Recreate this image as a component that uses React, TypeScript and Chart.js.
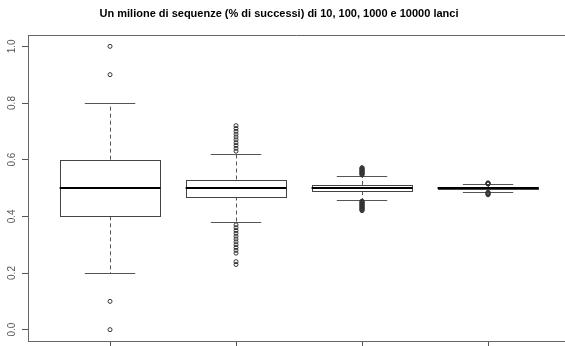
import React, { useEffect, useRef } from 'react';
import { Chart, registerables } from 'chart.js';

Chart.register(...registerables);

const titleText = 'Un milione di sequenze (% di successi) di 10, 100, 1000 e 10000 lanci';
const groups = [1, 2, 3, 4];
const yTickValues = [0, 0.2, 0.4, 0.6, 0.8, 1.0];
const q1 = [0.4, 0.47, 0.489, 0.4966];
const medians = [0.5, 0.5, 0.5, 0.5];
const q3 = [0.6, 0.53, 0.511, 0.5034];
const whiskerLow = [0.2, 0.38, 0.456, 0.4864];
const whiskerHigh = [0.8, 0.62, 0.544, 0.5136];
const outliers10 = [0.0, 0.1, 0.9, 1.0];
const outliers100 = [
  0.63, 0.64, 0.65, 0.66, 0.67, 0.68, 0.69, 0.7, 0.71, 0.72,
  0.37, 0.36, 0.35, 0.34, 0.33, 0.32, 0.31, 0.3, 0.29, 0.28, 0.27, 0.24, 0.23,
];
const outliers1000 = [
  0.546, 0.548, 0.55, 0.552, 0.554, 0.556, 0.558, 0.56, 0.562, 0.564, 0.566, 0.568, 0.57, 0.572,
  0.454, 0.452, 0.45, 0.448, 0.446, 0.444, 0.442, 0.44, 0.438, 0.436, 0.434, 0.432, 0.43, 0.428,
  0.426, 0.424, 0.422, 0.42,
];
const outliers10000 = [0.514, 0.515, 0.516, 0.517, 0.518, 0.485, 0.484, 0.482, 0.48, 0.478, 0.476];
const outlierLists = [outliers10, outliers100, outliers1000, outliers10000];

const boxPlugin = {
  id: 'boxPlugin',
  beforeDatasetsDraw(chart: any) {
    const { ctx, scales } = chart;
    const xs = scales.x;
    const ys = scales.y;
    ctx.save();
    groups.forEach((g, i) => {
      const xl = xs.getPixelForValue(g - 0.4);
      const xr = xs.getPixelForValue(g + 0.4);
      const xc = Math.round(xs.getPixelForValue(g)) + 0.5;
      const cl = xs.getPixelForValue(g - 0.2);
      const cr = xs.getPixelForValue(g + 0.2);
      const yq1 = ys.getPixelForValue(q1[i]);
      const yq3 = ys.getPixelForValue(q3[i]);
      const ymed = ys.getPixelForValue(medians[i]);
      const ylo = ys.getPixelForValue(whiskerLow[i]);
      const yhi = ys.getPixelForValue(whiskerHigh[i]);
      // whiskers
      ctx.strokeStyle = '#555';
      ctx.lineWidth = 1;
      ctx.setLineDash([4, 3]);
      ctx.beginPath();
      ctx.moveTo(xc, yq3);
      ctx.lineTo(xc, yhi);
      ctx.moveTo(xc, yq1);
      ctx.lineTo(xc, ylo);
      ctx.stroke();
      ctx.setLineDash([]);
      // caps
      ctx.beginPath();
      ctx.moveTo(cl, Math.round(yhi) + 0.5);
      ctx.lineTo(cr, Math.round(yhi) + 0.5);
      ctx.moveTo(cl, Math.round(ylo) + 0.5);
      ctx.lineTo(cr, Math.round(ylo) + 0.5);
      ctx.stroke();
      // box
      ctx.fillStyle = '#ffffff';
      ctx.strokeStyle = '#444';
      const top = Math.round(yq3) + 0.5;
      const bot = Math.round(yq1) + 0.5;
      ctx.fillRect(xl, top, xr - xl, bot - top);
      ctx.strokeRect(Math.round(xl) + 0.5, top, Math.round(xr) - Math.round(xl), bot - top);
      // median
      ctx.strokeStyle = '#000';
      ctx.lineWidth = 2;
      ctx.beginPath();
      ctx.moveTo(xl, Math.round(ymed));
      ctx.lineTo(xr, Math.round(ymed));
      ctx.stroke();
    });
    ctx.restore();
  },
  afterDraw(chart: any) {
    const { ctx, scales, chartArea } = chart;
    const ys = scales.y;
    ctx.save();
    // top frame line
    ctx.strokeStyle = '#666';
    ctx.lineWidth = 1;
    ctx.beginPath();
    ctx.moveTo(chartArea.left, chartArea.top + 0.5);
    ctx.lineTo(chartArea.right, chartArea.top + 0.5);
    ctx.stroke();
    // y tick labels, rotated
    ctx.fillStyle = '#555';
    ctx.font = '10px "Liberation Sans", Arial, sans-serif';
    ctx.textAlign = 'center';
    ctx.textBaseline = 'middle';
    yTickValues.forEach((v) => {
      const y = ys.getPixelForValue(v);
      ctx.save();
      ctx.translate(12, y);
      ctx.rotate(-Math.PI / 2);
      ctx.fillText(v.toFixed(1), 0, 0);
      ctx.restore();
    });
    // title
    ctx.fillStyle = '#000';
    ctx.font = 'bold 11px "Liberation Sans", Arial, sans-serif';
    ctx.textAlign = 'center';
    ctx.textBaseline = 'middle';
    ctx.fillText(titleText, 279, 14);
    ctx.restore();
  },
};

export default function App() {
  const ref = useRef<HTMLCanvasElement | null>(null);
  useEffect(() => {
    if (!ref.current) return;
    const data: { x: number; y: number }[] = [];
    outlierLists.forEach((list, i) => {
      list.forEach((v) => data.push({ x: groups[i], y: v }));
    });
    const chart = new Chart(ref.current, {
      type: 'scatter',
      data: {
        datasets: [
          {
            label: 'outliers',
            data,
            pointRadius: 2,
            pointBorderWidth: 1,
            borderColor: '#333',
            backgroundColor: 'rgba(0,0,0,0)',
            pointHoverRadius: 2,
            clip: false,
          },
        ],
      },
      options: {
        responsive: false,
        animation: false,
        layout: { autoPadding: false, padding: { top: 35, left: 0, right: 0, bottom: 0 } },
        plugins: {
          legend: { display: false },
          tooltip: { enabled: false },
          title: { display: false },
        },
        scales: {
          x: {
            type: 'linear',
            position: 'bottom',
            min: 0.349,
            max: 4.611,
            afterBuildTicks: (scale: any) => {
              scale.ticks = groups.map((v) => ({ value: v }));
            },
            afterFit: (scale: any) => {
              scale.height = 5;
            },
            ticks: { display: false },
            grid: { display: true, drawOnChartArea: false, drawTicks: true, tickLength: 5, color: '#555' },
            border: { display: true, color: '#666' },
          },
          y: {
            type: 'linear',
            position: 'left',
            min: -0.04,
            max: 1.04,
            afterBuildTicks: (scale: any) => {
              scale.ticks = yTickValues.map((v) => ({ value: v }));
            },
            afterFit: (scale: any) => {
              scale.width = 28;
            },
            ticks: { display: false },
            grid: { display: true, drawOnChartArea: false, drawTicks: true, tickLength: 6, color: '#555' },
            border: { display: true, color: '#666' },
          },
        },
      },
      plugins: [boxPlugin],
    });
    return () => chart.destroy();
  }, []);
  return (
    <div style={{ position: 'fixed', left: 0, top: 0, width: 565, height: 346, background: '#fff' }}>
      <canvas ref={ref} width={565} height={346} />
    </div>
  );
}
